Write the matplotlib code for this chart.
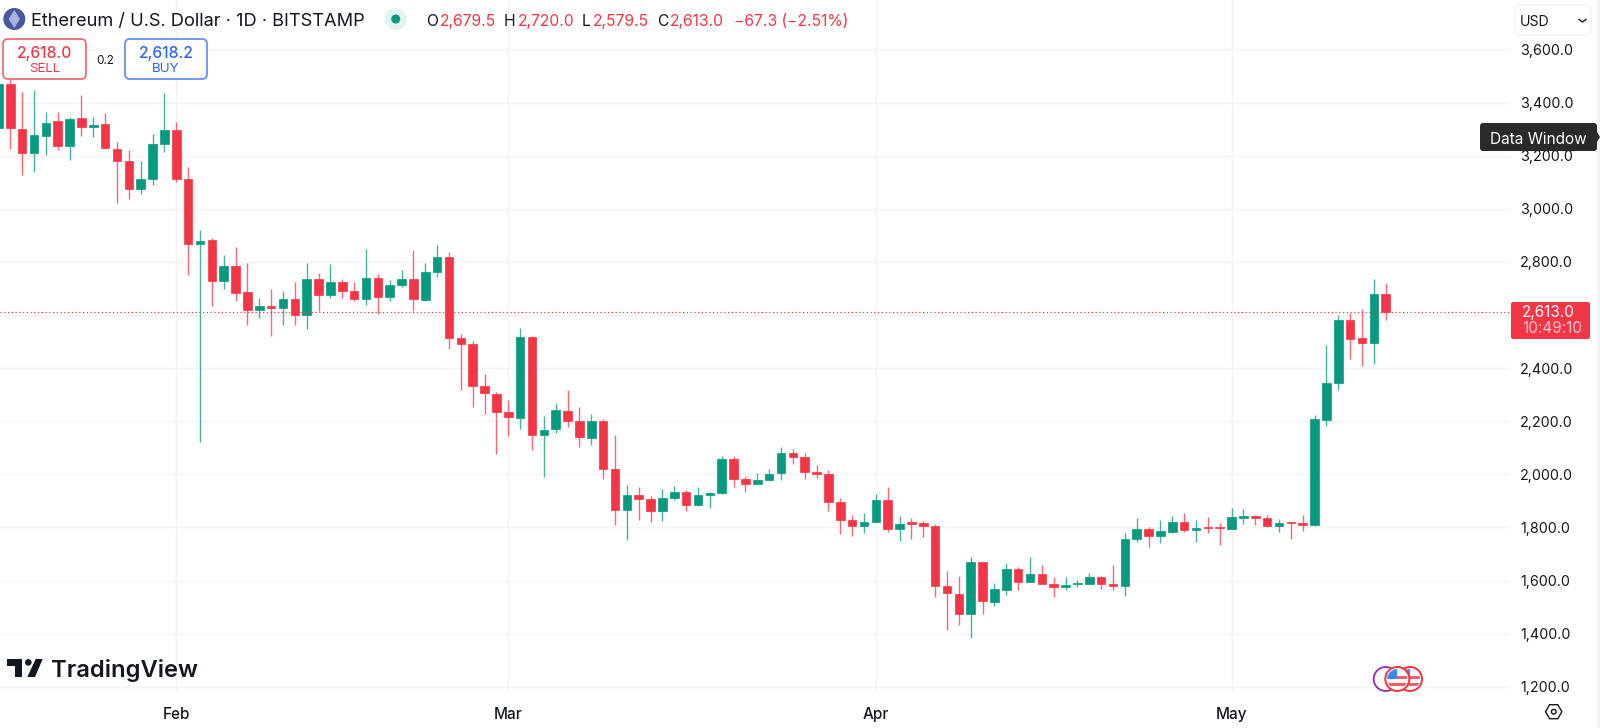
import matplotlib
matplotlib.use("Agg")
import matplotlib.pyplot as plt
from matplotlib.patches import Circle, FancyBboxPatch, Polygon, Rectangle
from matplotlib.ticker import FuncFormatter

plt.rcParams['font.family'] = ['Inter', 'DejaVu Sans']

opens = [3305.6,3470,3300.6,3209,3274,3329.5,3235,3340.8,3308,3318,
 3224,3178.8,3075.8,3112,3245,3295.6,3113.5,2867.4,2881.3,2729.3,
 2785.8,2686.6,2620,2634,2626.4,2659,2598.7,2735.5,2675.3,2724.2,
 2690.3,2659,2740.6,2667.7,2714.2,2735.5,2657.7,2760.6,2817,2512,
 2490.7,2332.5,2303.6,2235.8,2213.3,2517,2146.7,2169.3,2237.1,2202,
 2137.9,2202,2018.7,1865.5,1922,1905.7,1863,1910.7,1934.5,1884.3,
 1923.2,1928.3,2057.6,1981,1964.7,1978.5,2003.6,2080.2,2063.9,2008.6,
 2001,1894.4,1826.6,1806.5,1819,1903.2,1794,1819,1815.3,1804,
 1579.3,1550.4,1472.6,1668.4,1519,1564.2,1643.3,1595.6,1623.2,1586.8,
 1576.8,1586.8,1588,1612,1586.8,1578,1757.6,1795.3,1768.9,1783.9,
 1819.1,1791.5,1802.8,1800.3,1792.8,1836.7,1841.7,1834.2,1806.6,1820.4,
 1816.6,1809,2204.6,2342.7,2582.5,2512,2493.3,2679.5]
highs = [3480,3488,3441,3447.5,3365,3363,3344.5,3427.4,3347,3359.6,
 3250,3222.8,3180,3280,3434.9,3328,3158.7,2921.4,2891.3,2824.7,
 2856,2797,2664,2696.7,2691.6,2724.3,2794.6,2756.9,2792,2735.5,
 2725.5,2847.3,2754.4,2733,2768.2,2843.5,2795.8,2863.6,2836,2528.4,
 2500.8,2376.5,2311.2,2278.5,2549.7,2520.8,2219.5,2269.7,2316.2,2254.7,
 2228.3,2208.2,2146.7,1960.9,1953.4,1917,1944.6,1955.9,1940.8,1950.9,
 1933.3,2070,2067.6,1993.6,2003.6,2019.9,2102.8,2094,2078.9,2033.7,
 2014.9,1909.4,1845.4,1853,1927,1952.2,1841.7,1834,1825.4,1814,
 1634.5,1617,1687.3,1668.4,1589.3,1667.2,1649.6,1688.5,1659.6,1612,
 1614.4,1600.6,1629.5,1617,1658.4,1777.6,1834.2,1802.8,1826.7,1841.7,
 1854,1826.7,1840.5,1815.4,1873,1868,1848,1846.7,1832.9,1820.4,
 1846.7,2223,2487,2600,2606.3,2624,2736.9,2720]
lows = [3290,3225,3127,3140,3201,3221.5,3184,3275.5,3269,3226,
 3023,3038,3054.5,3089.7,3212.7,3102.2,2751.9,2122,2635.2,2699.2,
 2654,2562.3,2588.7,2522,2562.3,2561,2548.5,2613.8,2665.2,2665.2,
 2654,2638.9,2603.7,2654,2706.7,2615,2652.7,2744.3,2471.9,2316.2,
 2254.7,2228.3,2075,2143,2171.8,2092.7,1991,2155.5,2176.8,2102.8,
 2109,1983.5,1810.2,1753.8,1827.8,1821.5,1825.3,1903.2,1863,1881.8,
 1873,1927,1953.4,1934.5,1963.4,1977.2,1978.5,2038.7,1982.2,1986,
 1860.5,1776.3,1767.6,1778.9,1819,1783.9,1750,1757.6,1763.9,1539,
 1413.6,1433.7,1384.7,1473.8,1505.2,1545.4,1563,1595,1586.8,1539,
 1564.2,1575.5,1586.8,1566.7,1564.2,1541.6,1746,1725,1740,1780,
 1784,1746,1780,1733.8,1792.8,1814,1809,1802.8,1782.7,1755,
 1787.7,1805,2183,2316.3,2435.6,2408,2415.5,2579.5]
closes = [3470,3305.6,3208.9,3279,3324,3238,3338,3309,3314.4,3229,
 3180,3073.3,3111,3244,3296.8,3113.5,2867.4,2880,2729.3,2785.8,
 2684.1,2620,2632.6,2627.6,2659,2600,2735.5,2676.5,2724.2,2690.3,
 2659,2740.6,2667.7,2712.9,2735.5,2659,2761.9,2817,2512,2489.5,
 2332.5,2304.9,2234.6,2217,2517,2146.7,2168,2240.9,2200.7,2140.4,
 2202,2019.9,1864.2,1922,1905.7,1863,1910.7,1934.5,1884.3,1923.2,
 1928.3,2056.3,1981,1964.7,1978.5,2002.3,2080.2,2063.9,2008.6,2002.3,
 1895.6,1827.8,1805.2,1820.3,1903.2,1794,1812.8,1814,1805.3,1579.3,
 1551.7,1472.6,1668.4,1521.5,1566.7,1643.3,1595.6,1623.2,1588,1576.8,
 1583,1590.6,1612,1588,1579.3,1755,1795.3,1768.9,1786.5,1819.1,
 1791.5,1799,1797.8,1796.5,1838,1843,1834.2,1806.6,1817.9,1816.6,
 1809,2207,2342.7,2582.5,2509.6,2493,2677.9,2613]
days = list(range(len(opens)))

month_days = [15, 43, 74, 104]
month_labels = ['Feb', 'Mar', 'Apr', 'May']
price_ticks = [1200, 1400, 1600, 1800, 2000, 2200, 2400, 2600, 2800, 3000, 3200, 3400, 3600]
hidden_tick = 2600
last_price = 2613.0

GREEN = '#089981'
RED = '#F23645'
GRID = '#F2F3F5'
BLUE = '#2962FF'
TEXT = '#131722'

W, H = 1600, 728
fig = plt.figure(figsize=(W / 100, H / 100), dpi=100, facecolor='white')
ax = fig.add_axes([0, 1 - 693 / H, 1510 / W, 693 / H])
ax.set_xlim(0.131, 127.48)
ax.set_ylim(1176.3, 3786.4)
for s in ax.spines.values():
    s.set_visible(False)
ax.set_xticks(month_days, month_labels)
ax.yaxis.tick_right()
ax.set_yticks(price_ticks)
ax.yaxis.set_major_formatter(FuncFormatter(lambda v, _: '' if v == hidden_tick else f'{v:,.1f}'))
ax.tick_params(axis='y', length=0, pad=7.4, labelsize=10.3, labelcolor=TEXT)
ax.tick_params(axis='x', length=0, pad=10, labelsize=11)
for t in ax.get_xticklabels():
    t.set_fontweight('medium')
    t.set_color(TEXT)
ax.grid(True, color=GRID, lw=1.0)
ax.set_axisbelow(True)

cols = [GREEN if c >= o else RED for o, c in zip(opens, closes)]
ax.vlines(days, lows, highs, colors=cols, lw=1.0, zorder=2, alpha=0.75)
ax.bar(days, [abs(c - o) for o, c in zip(opens, closes)],
       bottom=[min(o, c) for o, c in zip(opens, closes)],
       width=0.72, color=cols, edgecolor=cols, linewidth=0.5, zorder=3)
ax.axhline(last_price, color=RED, lw=0.9, ls=(0, (1, 2)), zorder=4)

# interface overlay in pixel coordinates
ov = fig.add_axes([0, 0, 1, 1], zorder=10)
ov.set_xlim(0, W)
ov.set_ylim(H, 0)
ov.axis('off')
ov.patch.set_alpha(0)


def box(x0, y0, x1, y1, fc='white', ec='none', lw=1.0, r=4):
    p = FancyBboxPatch((x0 + r, y0 + r), x1 - x0 - 2 * r, y1 - y0 - 2 * r,
                       boxstyle=f'round,pad={r},rounding_size={r}',
                       fc=fc, ec=ec, lw=lw)
    ov.add_patch(p)


def label(x, y, s, size=10, color=TEXT, ha='left', **kw):
    ov.text(x, y, s, fontsize=size, color=color, ha=ha, va='center_baseline', **kw)


# header band
ov.add_patch(Rectangle((1597, 0), 3, H, fc='#F0F3FA', ec='none'))
ov.add_patch(Circle((14.3, 19), 11, fc='#47579F', ec='none'))
ov.add_patch(Polygon([(14.3, 10), (20, 19), (14.3, 28), (8.6, 19)], fc='#A9B4E0', ec='none'))
label(31, 20, 'Ethereum / U.S. Dollar · 1D · BITSTAMP', size=13.15)
ov.add_patch(Circle((395.7, 19), 11, fc='#E3F3EF', ec='none'))
ov.add_patch(Circle((395.7, 19), 4.5, fc=GREEN, ec='none'))

for x, s, c in [(426, 'O', TEXT), (440, '2,679.5', RED), (504, 'H', TEXT), (518, '2,720.0', RED),
                (582, 'L', TEXT), (593, '2,579.5', RED), (657, 'C', TEXT), (670, '2,613.0', RED),
                (734, '−67.3 (−2.51%)', RED)]:
    label(x, 20, s, size=11.3, color=c)

# sell / buy
box(3, 39, 86, 79, ec='#F6606A', lw=1.2, r=5)
label(44.5, 52, '2,618.0', size=11.2, color=RED, ha='center', fontweight='medium')
label(44.5, 68, 'SELL', size=9.6, color=RED, ha='center')
label(105, 59, '0.2', size=8.4, ha='center')
box(125, 39, 207, 79, ec='#5B85FF', lw=1.2, r=5)
label(166, 52, '2,618.2', size=11.2, color=BLUE, ha='center', fontweight='medium')
label(166, 68, 'BUY', size=9.6, color=BLUE, ha='center')

# currency button
box(1515, 5, 1591, 35, ec='#F0F3FA', lw=1.0, r=5)
label(1520, 20.5, 'USD', size=10.2)
ov.plot([1579, 1582.5, 1586], [19.5, 22, 19.5], color=TEXT, lw=1.0)

# tooltip
box(1480, 123, 1597, 151, fc='#2A2A2A', r=3)
ov.add_patch(Polygon([(1597, 132), (1600, 137), (1597, 142)], fc='#2A2A2A', ec='none'))
label(1538, 137.5, 'Data Window', size=11.1, color='white', ha='center')

# last price tag
box(1511, 302, 1590, 339, fc=RED, r=2)
label(1522, 311, '2,613.0', size=11.0, color='white')
label(1522, 327, '10:49:10', size=11.0, color='#FBC5CA')

# logo
ov.add_patch(Polygon([(6.7, 659), (21.7, 659), (21.7, 677), (15, 677), (15, 665.5), (6.7, 665.5)],
                     fc='#131722', ec='none'))
ov.add_patch(Circle((28.3, 662.4), 3.3, fc='#131722', ec='none'))
ov.add_patch(Polygon([(35.7, 659), (42.7, 659), (35, 677), (27.3, 677)], fc='#131722', ec='none'))
label(51, 668, 'TradingView', size=17.1, color='#131722', fontweight='semibold')

# event markers
cy = 679
ov.add_patch(Circle((1385.7, cy), 12, fc='white', ec='#9C27B0', lw=1.3))
for cx in (1410, 1397.3):
    rim = Circle((cx, cy), 12, fc='white', ec='#F6303E', lw=1.4)
    ov.add_patch(rim)
    disk = Circle((cx, cy), 10, transform=ov.transData, fc='none', ec='none')
    ov.add_patch(disk)
    for yy, hh, fc in [(cy - 10, 3.4, '#F4F5F7'), (cy - 3, 3.4, '#F0606A'), (cy + 3.5, 3.4, '#F0606A')]:
        r_ = Rectangle((cx - 10, yy), 20, hh, fc=fc, ec='none')
        ov.add_patch(r_)
        r_.set_clip_path(disk)
    r_ = Rectangle((cx - 10, cy - 10), 10, 10, fc='#3D8BF2', ec='none')
    ov.add_patch(r_)
    r_.set_clip_path(disk)

# settings icon
ov.add_patch(Polygon([(1545.5, 711.7), (1549.6, 704.7), (1557.8, 704.7), (1561.9, 711.7),
                      (1557.8, 718.7), (1549.6, 718.7)], fc='none', ec=TEXT, lw=1.0))
ov.add_patch(Circle((1553.7, 711.7), 2.3, fc='none', ec=TEXT, lw=1.0))

fig.savefig('out.png', dpi=100, facecolor='white')
